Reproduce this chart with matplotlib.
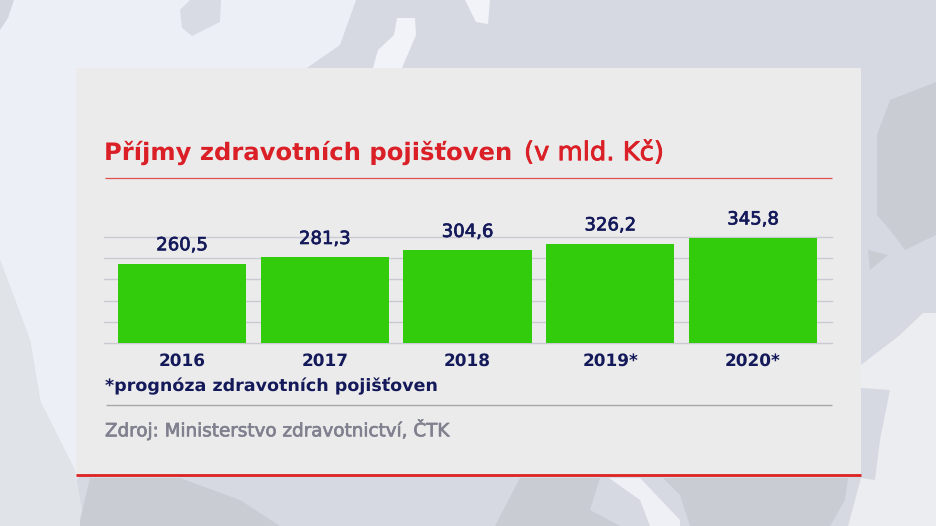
import matplotlib
matplotlib.use("Agg")
import matplotlib.pyplot as plt
import matplotlib.patheffects as pe
from matplotlib.patches import Polygon, Rectangle

W, H = 936, 526
years = ["2016", "2017", "2018", "2019*", "2020*"]
values = [260.5, 281.3, 304.6, 326.2, 345.8]
value_labels = ["260,5", "281,3", "304,6", "326,2", "345,8"]
grid_ticks = [0, 69.5, 139, 208.5, 278, 347.5]

NAVY = "#14195A"
RED = "#DA1F26"
GREEN = "#33CC0C"
GREY = "#80808F"
plt.rcParams["font.family"] = ["DejaVu Sans"]
plt.rcParams["text.hinting"] = "no_hinting"
plt.rcParams["text.hinting_factor"] = 8

fig = plt.figure(figsize=(W / 100, H / 100), dpi=100, facecolor="#D6D9E2")

def fx(x): return x / W
def fy(y): return 1 - y / H

def bg(points, color, z=0):
    fig.add_artist(Polygon([(fx(x), fy(y)) for x, y in points], closed=True,
                           transform=fig.transFigure, facecolor=color, edgecolor="none", zorder=z))

# map backdrop (decoration only)
LIGHT = "#ECEFF6"
DARK = "#C9CCD3"
bg([(0, 0), (356, 0), (340, 45), (301, 72), (301, 240), (76, 480), (60, 470), (40, 400), (30, 340), (0, 260)], LIGHT)
bg([(0, 260), (30, 340), (40, 400), (75, 470), (85, 526), (0, 526)], "#E0E3E8")
bg([(180, 10), (190, 0), (221, 0), (220, 22), (192, 36), (182, 28)], "#D8DBE4")
bg([(0, 0), (14, 0), (8, 18), (0, 30)], "#D3D6DE")
bg([(397, 18), (415, 18), (416, 35), (402, 68), (373, 68), (378, 50), (394, 35)], "#F1F3F9")
bg([(465, 0), (490, 0), (488, 24), (476, 22)], "#F1F3F9")
bg([(877, 135), (890, 100), (936, 82), (936, 235), (905, 250), (890, 230), (877, 215)], DARK)
bg([(868, 250), (888, 255), (870, 270)], DARK)
bg([(861, 365), (900, 335), (923, 313), (936, 313), (936, 526), (848, 526), (861, 478), (875, 480), (880, 440), (890, 390), (861, 388)], "#EBEDF1")
bg([(80, 526), (80, 520), (90, 478), (180, 478), (240, 500), (280, 526)], DARK)
bg([(495, 526), (520, 478), (600, 478), (590, 510), (620, 526)], DARK)
bg([(609, 478), (640, 478), (680, 520), (680, 526), (650, 526), (640, 500)], "#EEF0F6")
bg([(663, 478), (795, 478), (848, 478), (845, 500), (830, 526), (690, 526), (680, 495)], DARK)

panel = Rectangle((fx(76), fy(475)), 785 / W, 407 / H, transform=fig.transFigure,
                  facecolor="#EBEBEB", edgecolor="none", zorder=1)
fig.add_artist(panel)

def hline(x0, x1, y, color, lw):
    fig.add_artist(plt.Line2D([fx(x0), fx(x1)], [fy(y), fy(y)], transform=fig.transFigure,
                              color=color, linewidth=lw, solid_capstyle="butt", zorder=2))

hline(76, 861, 475.3, "#DD2222", 2.0)
hline(105, 832, 177.5, "#E0524F", 0.9)
hline(106, 832, 405, "#A8A8A8", 1.0)

medium = [pe.withStroke(linewidth=0.5, foreground=NAVY)]
medium_grey = [pe.withStroke(linewidth=0.5, foreground=GREY)]
medium_red = [pe.withStroke(linewidth=0.6, foreground=RED)]

# plot area: left 104, right 831.5, top 237.4, bottom 342.6
ax = fig.add_axes([fx(104), fy(342.6), 727.5 / W, 105.2 / H], facecolor="none", zorder=3)
x = list(range(len(years)))
ax.bar(x, values, width=0.897, color=GREEN, linewidth=0, zorder=3)
ax.set_ylim(0, 347.5)
ax.set_xlim(-78 / 142.75, 4 + 78.5 / 142.75)
ax.set_yticks(grid_ticks)
ax.yaxis.grid(True, color="#C9CAD2", linewidth=1.0, zorder=1, clip_on=False)
ax.set_axisbelow(True)
ax.tick_params(axis="both", length=0, labelleft=False)
ax.set_xticks(x)
ax.set_xticklabels(years, fontsize=12.2, fontweight="bold", color=NAVY)
ax.tick_params(axis="x", pad=7.5)
for s in ax.spines.values():
    s.set_visible(False)
for xi, v, t in zip(x, values, value_labels):
    ax.annotate(t, (xi, v), xytext=(0, 7), textcoords="offset points", ha="center", va="bottom",
                fontsize=13, color=NAVY, path_effects=medium, annotation_clip=False)

fig.text(fx(104), fy(153), "Příjmy zdravotních pojišťoven", fontsize=17.5, fontweight="bold",
         color=RED, ha="left", va="center", zorder=5)
fig.text(fx(524), fy(153), "(v mld. Kč)", fontsize=18.6, color=RED, ha="left", va="center",
         path_effects=medium_red, zorder=5)
fig.text(fx(105), fy(386), "*prognóza zdravotních pojišťoven", fontsize=12.6, fontweight="bold",
         color=NAVY, ha="left", va="center", zorder=5)
fig.text(fx(105), fy(430), "Zdroj: Ministerstvo zdravotnictví, ČTK", fontsize=13.2,
         color=GREY, ha="left", va="center", path_effects=medium_grey, zorder=5)

fig.savefig("out.png", dpi=100, facecolor=fig.get_facecolor())
